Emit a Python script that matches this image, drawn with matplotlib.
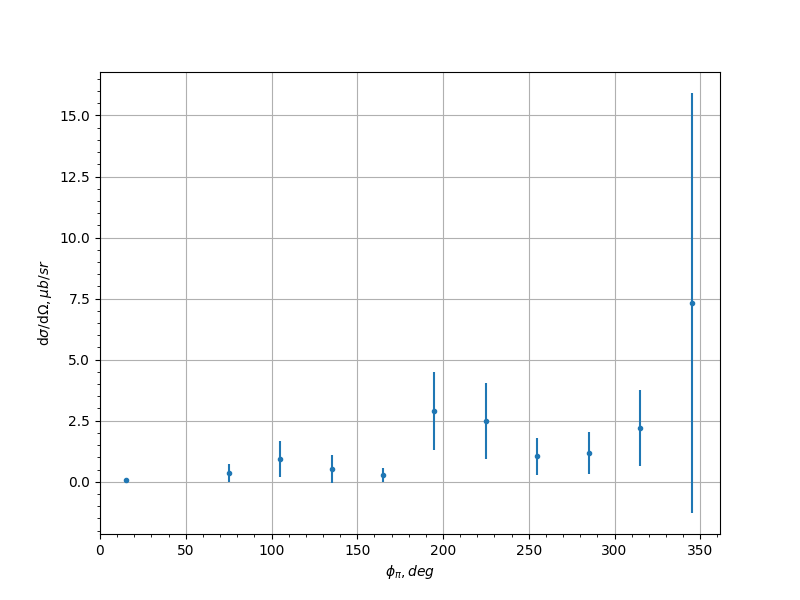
import matplotlib.pyplot as plt

# bin centres of phi_pi and the cross section with its errors
phi = [15, 75, 105, 135, 165, 195, 225, 255, 285, 315, 345]
xsec = [0.07, 0.36, 0.93, 0.52, 0.27, 2.91, 2.49, 1.05, 1.18, 2.20, 7.32]
xsec_err = [0.0, 0.38, 0.75, 0.56, 0.29, 1.60, 1.55, 0.76, 0.86, 1.55, 8.60]

fig = plt.figure(figsize=(8, 6), dpi=100)
plt.errorbar(phi, xsec, yerr=xsec_err, fmt='.')
plt.xlim(left=0)
plt.minorticks_on()
plt.grid()
plt.xlabel(r"$\phi_{\pi}, deg$")
plt.ylabel(r"d$\sigma$/d$\Omega, \mu b/sr$")
plt.savefig("out.png")
